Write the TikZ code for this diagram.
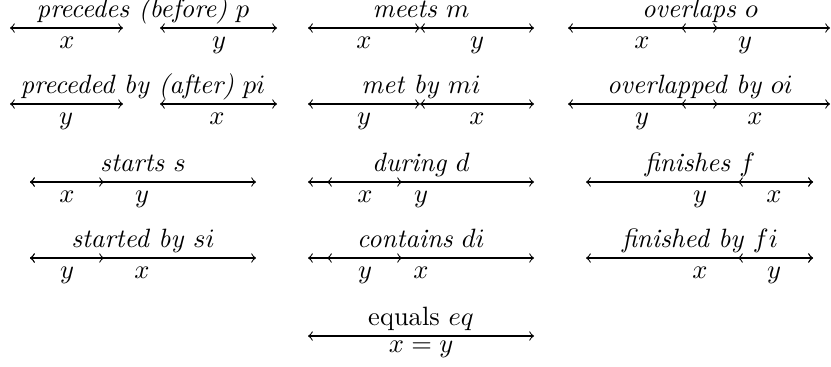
\documentclass[tikz,border=0pt]{standalone}
\begin{document}
\begin{tikzpicture}[x=0.0132626cm, y=-0.0132626cm,
  iv/.style={<->, line width=0.4pt},
  ttl/.style={anchor=base, inner sep=0pt},
  lbl/.style={anchor=base, inner sep=0pt}]
\useasboundingbox (0,0) rectangle (831,366);
% ---------- Row 1 (y = 28) ----------
\coordinate (pxa) at (10,28);  \coordinate (pxb) at (123,28);
\coordinate (pya) at (160,28); \coordinate (pyb) at (277,28);
\coordinate (mxa) at (308,28); \coordinate (mxb) at (420,28);
\coordinate (mya) at (420,28); \coordinate (myb) at (534,28);
\coordinate (oxa) at (568,28); \coordinate (oxb) at (718,28);
\coordinate (oya) at (681,28); \coordinate (oyb) at (830,28);
\draw[iv] (pxa) -- (pxb); \draw[iv] (pya) -- (pyb);
\draw[iv] (mxa) -- (mxb); \draw[iv] (mya) -- (myb);
\draw[iv] (oxa) -- (oxb); \draw[iv] (oya) -- (oyb);
\node[ttl] (tp) at (143,17.5) {\textit{precedes (before)} $p$};
\node[ttl] (tm) at (421,17.5) {\textit{meets} $m$};
\node[ttl] (to) at (700,17.5) {\textit{overlaps} $o$};
\node[lbl] (lp1) at (67,48.5) {$x$};  \node[lbl] (lp2) at (219,48.5) {$y$};
\node[lbl] (lm1) at (364,48.5) {$x$}; \node[lbl] (lm2) at (477,48.5) {$y$};
\node[lbl] (lo1) at (642,48.5) {$x$}; \node[lbl] (lo2) at (745,48.5) {$y$};
% ---------- Row 2 (y = 104) ----------
\coordinate (piya) at (10,104);  \coordinate (piyb) at (123,104);
\coordinate (pixa) at (160,104); \coordinate (pixb) at (277,104);
\coordinate (miya) at (308,104); \coordinate (miyb) at (420,104);
\coordinate (mixa) at (420,104); \coordinate (mixb) at (534,104);
\coordinate (oiya) at (568,104); \coordinate (oiyb) at (718,104);
\coordinate (oixa) at (681,104); \coordinate (oixb) at (830,104);
\draw[iv] (piya) -- (piyb); \draw[iv] (pixa) -- (pixb);
\draw[iv] (miya) -- (miyb); \draw[iv] (mixa) -- (mixb);
\draw[iv] (oiya) -- (oiyb); \draw[iv] (oixa) -- (oixb);
\node[ttl] (tpi) at (143,93.5) {\textit{preceded by (after)} $pi$};
\node[ttl] (tmi) at (421,93.5) {\textit{met by} $mi$};
\node[ttl] (toi) at (700,93.5) {\textit{overlapped by} $oi$};
\node[lbl] (lpi1) at (66,124.5) {$y$};  \node[lbl] (lpi2) at (217,124.5) {$x$};
\node[lbl] (lmi1) at (364,124.5) {$y$}; \node[lbl] (lmi2) at (477,124.5) {$x$};
\node[lbl] (loi1) at (642,124.5) {$y$}; \node[lbl] (loi2) at (755,124.5) {$x$};
% ---------- Row 3 (y = 182) ----------
\coordinate (sya) at (30,182);  \coordinate (syb) at (256,182);
\coordinate (sxa) at (30,182);  \coordinate (sxb) at (104,182);
\coordinate (dya) at (308,182); \coordinate (dyb) at (534,182);
\coordinate (dxa) at (327,182); \coordinate (dxb) at (402,182);
\coordinate (fya) at (586,182); \coordinate (fyb) at (813,182);
\coordinate (fxa) at (738,182); \coordinate (fxb) at (813,182);
\draw[iv] (sya) -- (syb); \draw[iv] (sxa) -- (sxb);
\draw[iv] (dya) -- (dyb); \draw[iv] (dxa) -- (dxb);
\draw[iv] (fya) -- (fyb); \draw[iv] (fxa) -- (fxb);
\node[ttl] (ts) at (143,171) {\textit{starts} $s$};
\node[ttl] (td) at (421,171) {\textit{during} $d$};
\node[ttl] (tf) at (700,171) {\textit{finishes} $f$};
\node[lbl] (ls1) at (67,202.5) {$x$};  \node[lbl] (ls2) at (142,202.5) {$y$};
\node[lbl] (ld1) at (365,202.5) {$x$}; \node[lbl] (ld2) at (421,202.5) {$y$};
\node[lbl] (lf1) at (700,202.5) {$y$}; \node[lbl] (lf2) at (774,202.5) {$x$};
% ---------- Row 4 (y = 258) ----------
\coordinate (sixa) at (30,258);  \coordinate (sixb) at (256,258);
\coordinate (siya) at (30,258);  \coordinate (siyb) at (104,258);
\coordinate (dixa) at (308,258); \coordinate (dixb) at (534,258);
\coordinate (diya) at (327,258); \coordinate (diyb) at (402,258);
\coordinate (fixa) at (586,258); \coordinate (fixb) at (813,258);
\coordinate (fiya) at (738,258); \coordinate (fiyb) at (813,258);
\draw[iv] (sixa) -- (sixb); \draw[iv] (siya) -- (siyb);
\draw[iv] (dixa) -- (dixb); \draw[iv] (diya) -- (diyb);
\draw[iv] (fixa) -- (fixb); \draw[iv] (fiya) -- (fiyb);
\node[ttl] (tsi) at (143,247.5) {\textit{started by} $si$};
\node[ttl] (tdi) at (421,247.5) {\textit{contains} $di$};
\node[ttl] (tfi) at (700,247.5) {\textit{finished by} $fi$};
\node[lbl] (lsi1) at (67,278.5) {$y$};  \node[lbl] (lsi2) at (142,278.5) {$x$};
\node[lbl] (ldi1) at (365,278.5) {$y$}; \node[lbl] (ldi2) at (421,278.5) {$x$};
\node[lbl] (lfi1) at (700,278.5) {$x$}; \node[lbl] (lfi2) at (774,278.5) {$y$};
% ---------- Row 5 (y = 336) ----------
\coordinate (eqa) at (308,336); \coordinate (eqb) at (534,336);
\draw[iv] (eqa) -- (eqb);
\node[ttl] (teq) at (421,325) {equals $eq$};
\node[lbl] (leq) at (421,352.5) {$x=y$};
\end{tikzpicture}
\end{document}
